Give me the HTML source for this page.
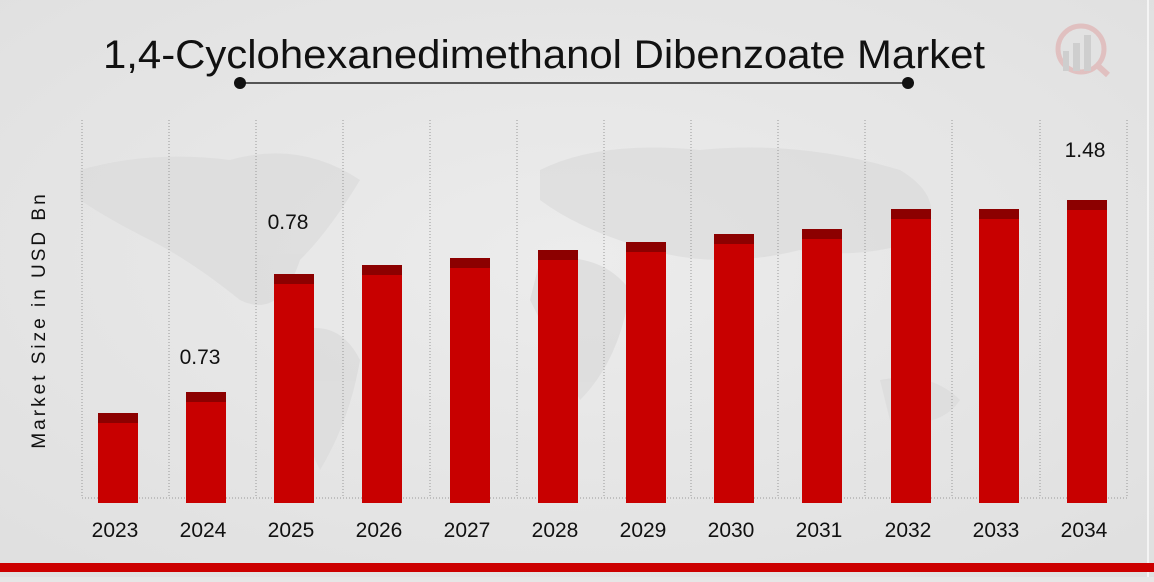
<!DOCTYPE html>
<html><head><style>
html,body{margin:0;padding:0;}
body{width:1154px;height:577px;background:#e6e6e6;overflow:hidden;font-family:"Liberation Sans","DejaVu Sans",sans-serif;}
</style></head><body>
<svg width="1154" height="577" viewBox="0 0 1154 577" xmlns="http://www.w3.org/2000/svg">
<defs><radialGradient id="bg" cx="50%" cy="45%" r="70%"><stop offset="0" stop-color="#ececec"/><stop offset="1" stop-color="#e0e0e0"/></radialGradient></defs>
<rect width="1154" height="577" fill="url(#bg)"/>
<g fill="#d8d8d8" opacity="0.6">
<path d="M80 170 Q150 150 230 160 Q300 140 360 180 Q330 230 300 260 Q280 320 240 300 Q190 260 150 240 Q110 220 80 200Z"/>
<path d="M300 330 Q340 320 360 360 Q350 420 320 470 Q300 430 295 380Z"/>
<path d="M540 170 Q600 140 700 150 Q800 140 900 170 Q950 200 920 240 Q860 260 800 250 Q720 270 650 250 Q580 230 540 200Z"/>
<path d="M540 260 Q600 250 630 290 Q620 360 580 400 Q550 340 530 300Z"/>
<path d="M880 380 Q930 370 960 400 Q940 430 890 420Z"/>
</g>
<rect x="1147" y="0" width="2" height="577" fill="#f4f4f4"/>
<text x="103" y="68" font-size="40" textLength="882" lengthAdjust="spacingAndGlyphs" fill="#111">1,4-Cyclohexanedimethanol Dibenzoate Market</text>
<line x1="240" y1="83" x2="908" y2="83" stroke="#555" stroke-width="2"/>
<circle cx="240" cy="83" r="6" fill="#111"/><circle cx="908" cy="83" r="6" fill="#111"/>
<g opacity="0.5"><circle cx="1081" cy="49" r="23" fill="none" stroke="#e0a0a0" stroke-width="5"/><line x1="1097" y1="65" x2="1108" y2="75" stroke="#e0a0a0" stroke-width="6"/>
<rect x="1063" y="51" width="6" height="20" fill="#bbb"/><rect x="1073" y="43" width="7" height="28" fill="#bbb"/><rect x="1084" y="35" width="7" height="36" fill="#bbb"/></g>
<g stroke="#999" stroke-width="1" stroke-dasharray="1,2">
<line x1="82" y1="120" x2="82" y2="498"/><line x1="169" y1="120" x2="169" y2="498"/><line x1="256" y1="120" x2="256" y2="498"/><line x1="343" y1="120" x2="343" y2="498"/><line x1="430" y1="120" x2="430" y2="498"/><line x1="517" y1="120" x2="517" y2="498"/><line x1="604" y1="120" x2="604" y2="498"/><line x1="691" y1="120" x2="691" y2="498"/><line x1="778" y1="120" x2="778" y2="498"/><line x1="865" y1="120" x2="865" y2="498"/><line x1="952" y1="120" x2="952" y2="498"/><line x1="1040" y1="120" x2="1040" y2="498"/><line x1="1127" y1="120" x2="1127" y2="498"/>
<line x1="82" y1="498" x2="1127" y2="498"/>
</g>
<g>
<rect x="98" y="413" width="40" height="90" fill="#c80000"/><rect x="98" y="413" width="40" height="10" fill="#8c0000"/>
<rect x="186" y="392" width="40" height="111" fill="#c80000"/><rect x="186" y="392" width="40" height="10" fill="#8c0000"/>
<rect x="274" y="274" width="40" height="229" fill="#c80000"/><rect x="274" y="274" width="40" height="10" fill="#8c0000"/>
<rect x="362" y="265" width="40" height="238" fill="#c80000"/><rect x="362" y="265" width="40" height="10" fill="#8c0000"/>
<rect x="450" y="258" width="40" height="245" fill="#c80000"/><rect x="450" y="258" width="40" height="10" fill="#8c0000"/>
<rect x="538" y="250" width="40" height="253" fill="#c80000"/><rect x="538" y="250" width="40" height="10" fill="#8c0000"/>
<rect x="626" y="242" width="40" height="261" fill="#c80000"/><rect x="626" y="242" width="40" height="10" fill="#8c0000"/>
<rect x="714" y="234" width="40" height="269" fill="#c80000"/><rect x="714" y="234" width="40" height="10" fill="#8c0000"/>
<rect x="802" y="229" width="40" height="274" fill="#c80000"/><rect x="802" y="229" width="40" height="10" fill="#8c0000"/>
<rect x="891" y="209" width="40" height="294" fill="#c80000"/><rect x="891" y="209" width="40" height="10" fill="#8c0000"/>
<rect x="979" y="209" width="40" height="294" fill="#c80000"/><rect x="979" y="209" width="40" height="10" fill="#8c0000"/>
<rect x="1067" y="200" width="40" height="303" fill="#c80000"/><rect x="1067" y="200" width="40" height="10" fill="#8c0000"/>
</g>
<g font-size="21" fill="#111" text-anchor="middle">
<text x="200" y="364">0.73</text><text x="288" y="229">0.78</text><text x="1085" y="157">1.48</text>
</g>
<g font-size="21" fill="#111" text-anchor="middle">
<text x="115" y="537">2023</text><text x="203" y="537">2024</text><text x="291" y="537">2025</text><text x="379" y="537">2026</text><text x="467" y="537">2027</text><text x="555" y="537">2028</text><text x="643" y="537">2029</text><text x="731" y="537">2030</text><text x="819" y="537">2031</text><text x="908" y="537">2032</text><text x="996" y="537">2033</text><text x="1084" y="537">2034</text>
</g>
<text transform="translate(45,320) rotate(-90)" font-size="19" fill="#111" text-anchor="middle" letter-spacing="3">Market Size in USD Bn</text>
<rect x="0" y="563" width="1154" height="9" fill="#cc0000"/>
</svg>
</body></html>
